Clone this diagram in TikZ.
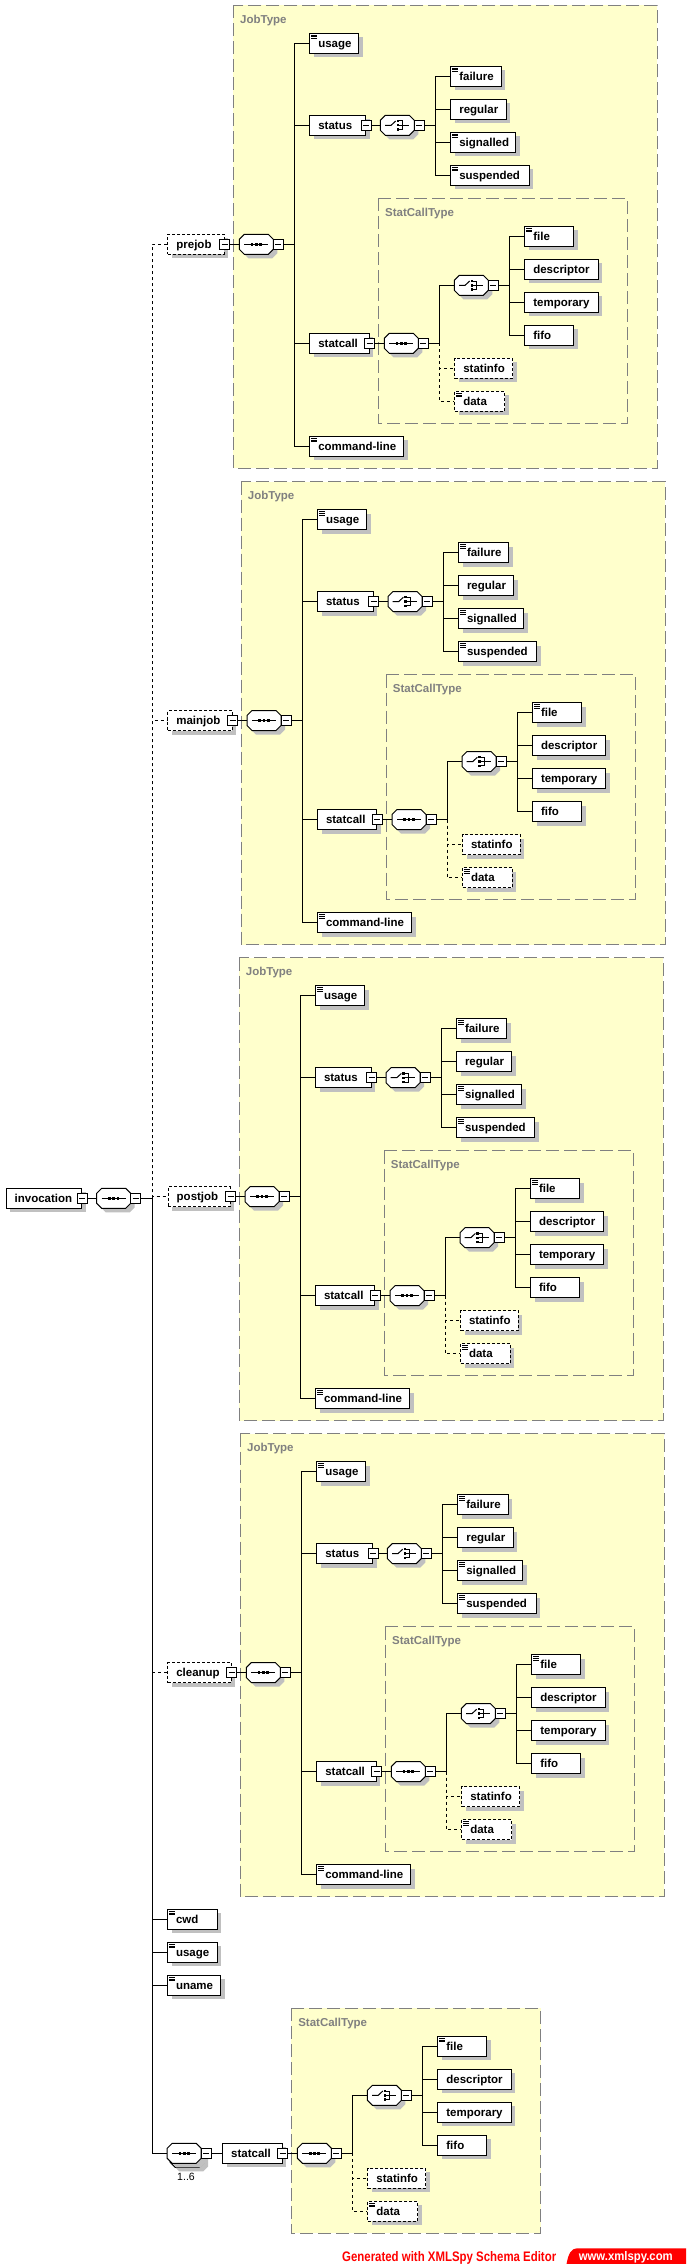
\documentclass[tikz,border=0pt]{standalone}
\usepackage{fontspec}
\setmainfont{Liberation Sans}
\usepackage{graphicx}
\usetikzlibrary{shadows}
\definecolor{typefill}{RGB}{255,255,204}
\definecolor{typeline}{RGB}{128,128,128}
\definecolor{shadowgray}{RGB}{192,192,192}
\definecolor{xred}{RGB}{255,0,0}

\tikzset{
 lbl/.style={font=\bfseries\fontsize{11.5pt}{13pt}\selectfont},
 shd/.style={drop shadow={shadow xshift=4pt, shadow yshift=-4pt, fill=shadowgray, opacity=1}},
 elembox/.style={lbl, shd, draw=black, fill=white, line width=1pt, minimum height=20pt, inner xsep=8.5pt, inner ysep=0pt, anchor=west, text height=8.2pt, text depth=0pt},
 optbox/.style={dash pattern=on 3pt off 2pt},
 simpicon/.style={path picture={\draw[solid, draw=black, line width=0.8pt] ([shift={(1.5pt,-1.8pt)}]path picture bounding box.north west) -- ++(6pt,0pt) ([shift={(1.5pt,-3.6pt)}]path picture bounding box.north west) -- ++(6pt,0pt) ([shift={(1.5pt,-5.4pt)}]path picture bounding box.north west) -- ++(6pt,0pt);}},
 octnode/.style={rectangle, draw=none, minimum width=34pt, minimum height=20pt, inner sep=0pt, outer sep=0pt, anchor=west},
 minusbox/.style={draw=black, fill=white, line width=1pt, solid, minimum size=10pt, inner sep=0pt, outer sep=0pt, path picture={\draw[solid,draw=black,line width=1pt] ([xshift=2pt]path picture bounding box.west) -- ([xshift=-2pt]path picture bounding box.east);}},
 conn/.style={draw=black, line width=1pt},
 optconn/.style={conn, dash pattern=on 3pt off 3pt},
 typebox/.style={fill=typefill, draw=typeline, line width=1pt, dash pattern=on 13pt off 5pt},
 typelabel/.style={lbl, text=typeline, anchor=base west, inner sep=0pt},
}

% octagon outline and shadow drawn around an invisible rectangular node
\newcommand\octshape[1]{%
 \fill[shadowgray, transform canvas={shift={(4pt,-4pt)}}] ([xshift=5pt]#1.north west) -- ([xshift=-5pt]#1.north east) -- ([yshift=-5pt]#1.north east) -- ([yshift=5pt]#1.south east) -- ([xshift=-5pt]#1.south east) -- ([xshift=5pt]#1.south west) -- ([yshift=5pt]#1.south west) -- ([yshift=-5pt]#1.north west) -- cycle;
 \filldraw[fill=white, draw=black, line width=1pt] ([xshift=5pt]#1.north west) -- ([xshift=-5pt]#1.north east) -- ([yshift=-5pt]#1.north east) -- ([yshift=5pt]#1.south east) -- ([xshift=-5pt]#1.south east) -- ([xshift=5pt]#1.south west) -- ([yshift=5pt]#1.south west) -- ([yshift=-5pt]#1.north west) -- cycle;
}
\newcommand\seqsymb[1]{%
 \draw[line width=1pt] ([xshift=-12pt]#1.center) -- ([xshift=12pt]#1.center);
 \fill[black] ([shift={(-5.7pt,-1.4pt)}]#1.center) rectangle ++(2.8pt,2.8pt);
 \fill[black] ([shift={(-1.4pt,-1.4pt)}]#1.center) rectangle ++(2.8pt,2.8pt);
 \fill[black] ([shift={(2.9pt,-1.4pt)}]#1.center) rectangle ++(2.8pt,2.8pt);
}
\newcommand\choicesymb[1]{%
 \draw[line width=1pt] ([xshift=-12.3pt]#1.center) -- ([xshift=-6.2pt]#1.center) -- ([shift={(-1.6pt,4.3pt)}]#1.center);
 \fill[black] ([shift={(-0.6pt,3.1pt)}]#1.center) rectangle ++(2.4pt,2.4pt);
 \fill[black] ([shift={(-0.6pt,-1.2pt)}]#1.center) rectangle ++(2.4pt,2.4pt);
 \fill[black] ([shift={(-0.6pt,-5.5pt)}]#1.center) rectangle ++(2.4pt,2.4pt);
 \draw[line width=1pt] ([shift={(1.8pt,4.3pt)}]#1.center) -- ([shift={(5.3pt,4.3pt)}]#1.center) -- ([shift={(5.3pt,-4.3pt)}]#1.center) -- ([shift={(1.8pt,-4.3pt)}]#1.center);
 \draw[line width=1pt] ([xshift=1.8pt]#1.center) -- ([xshift=12pt]#1.center);
}
% #1 name, #2 x (left), #3 y (centre)
\newcommand\seqoct[3]{\node[octnode] (#1) at ({#2},{#3}) {};\octshape{#1}\seqsymb{#1}\node[minusbox,anchor=west] (#1-m) at (#1.east) {};}
\newcommand\choiceoct[3]{\node[octnode] (#1) at ({#2},{#3}) {};\octshape{#1}\choicesymb{#1}\node[minusbox,anchor=west] (#1-m) at (#1.east) {};}

\newcommand\elem[6][]{\node[elembox,#1] (#2) at ({#3},{#4}) {\makebox[\dimexpr#5pt-17pt\relax][l]{#6}};}
\newcommand\elemm[6][]{\elem[#1]{#2}{#3}{#4}{#5}{#6}\node[minusbox] (#2-m) at (#2.east) {};}

\newcommand\stattype[4]{%
 \pgfmathsetmacro\SX{#2}\pgfmathsetmacro\SY{#3}%
 \draw[typebox] ({\SX-6},{\SY-145}) rectangle ({\SX+243.3},{\SY+80});
 \node[typelabel] (#1-lbl) at ({\SX+0.7},{\SY-127.3}) {StatCallType};
 \seqoct{#1-seq}{\SX}{\SY}
 \coordinate (#1-vx) at ({\SX+55},\SY);
 \choiceoct{#1-ch}{\SX+70}{\SY-58}
 \coordinate (#1-chx) at ({\SX+125},{\SY-58});
 \elem[simpicon]{#1-file}{\SX+140}{\SY-107}{49}{file}
 \elem{#1-descriptor}{\SX+140}{\SY-74}{73.3}{descriptor}
 \elem{#1-temporary}{\SX+140}{\SY-41}{73.3}{temporary}
 \elem{#1-fifo}{\SX+140}{\SY-8}{49}{fifo}
 \elem[optbox]{#1-statinfo}{\SX+70}{\SY+25}{57.7}{statinfo}
 \elem[optbox,simpicon]{#1-data}{\SX+70}{\SY+58}{49.7}{data}
 \draw[conn] (#4.east) -- (#1-seq.west);
 \draw[conn] (#1-seq-m.east) -- (#1-vx) |- (#1-ch.west);
 \draw[optconn] (#1-vx) |- (#1-statinfo.west);
 \draw[optconn] (#1-vx) |- (#1-data.west);
 \draw[conn] (#1-ch-m.east) -- (#1-chx) |- (#1-file.west);
 \draw[conn] (#1-chx) |- (#1-descriptor.west);
 \draw[conn] (#1-chx) |- (#1-temporary.west);
 \draw[conn] (#1-chx) |- (#1-fifo.west);
}

\newcommand\jobtype[4]{%
 \pgfmathsetmacro\JX{#2}\pgfmathsetmacro\JY{#3}%
 \draw[typebox] ({\JX-6},{\JY-239}) rectangle ({\JX+418},{\JY+224});
 \node[typelabel] (#1-lbl) at ({\JX+0.7},{\JY-221}) {JobType};
 \seqoct{#1-seq}{\JX}{\JY}
 \coordinate (#1-vx) at ({\JX+55},\JY);
 \elem[simpicon]{#1-usage}{\JX+70}{\JY-201}{49}{usage}
 \elemm{#1-status}{\JX+70}{\JY-119}{55.7}{status}
 \choiceoct{#1-ch}{\JX+141}{\JY-119}
 \coordinate (#1-chx) at ({\JX+196},{\JY-119});
 \elem[simpicon]{#1-failure}{\JX+211}{\JY-168}{50.4}{failure}
 \elem{#1-regular}{\JX+211}{\JY-135}{55.4}{regular}
 \elem[simpicon]{#1-signalled}{\JX+211}{\JY-102}{65}{signalled}
 \elem[simpicon]{#1-suspended}{\JX+211}{\JY-69}{78.2}{suspended}
 \elemm{#1-statcall}{\JX+70}{\JY+99}{59.2}{statcall}
 \elem[simpicon]{#1-cmd}{\JX+70}{\JY+202}{94}{command-line}
 \draw[conn] (#4.east) -- (#1-seq.west);
 \draw[conn] (#1-seq-m.east) -- (#1-vx) |- (#1-usage.west);
 \draw[conn] (#1-vx) |- (#1-status.west);
 \draw[conn] (#1-vx) |- (#1-statcall.west);
 \draw[conn] (#1-vx) |- (#1-cmd.west);
 \draw[conn] (#1-status-m.east) -- (#1-ch.west);
 \draw[conn] (#1-ch-m.east) -- (#1-chx) |- (#1-failure.west);
 \draw[conn] (#1-chx) |- (#1-regular.west);
 \draw[conn] (#1-chx) |- (#1-signalled.west);
 \draw[conn] (#1-chx) |- (#1-suspended.west);
 \stattype{#1-st}{\JX+145}{\JY+99}{#1-statcall-m}
}

\begin{document}
\begin{tikzpicture}[x=1pt,y=-1pt]
\useasboundingbox (0,0) rectangle (686,2264);
\fill[white] (0,0) rectangle (686,2264);

% root
\elemm{invocation}{5.7}{1198.3}{75.6}{invocation}
\seqoct{topseq}{96.7}{1198.3}
\coordinate (vx) at (152.3,1198.3);
\draw[conn] (invocation-m.east) -- (topseq.west);
\draw[conn] (topseq-m.east) -- (vx);

% optional job elements
\elemm[optbox]{prejob}{167.4}{244.3}{56.1}{prejob}
\jobtype{pre}{239.3}{244.3}{prejob-m}
\elemm[optbox]{mainjob}{167.3}{720.5}{64.4}{mainjob}
\jobtype{main}{247}{720.5}{mainjob-m}
\elemm[optbox]{postjob}{167.7}{1196.7}{61.8}{postjob}
\jobtype{post}{245}{1196.7}{postjob-m}
\elemm[optbox]{cleanup}{167.3}{1672.5}{63.5}{cleanup}
\jobtype{clean}{246.3}{1672.5}{cleanup-m}

\draw[optconn] (vx) |- (prejob.west);
\draw[optconn] (vx) |- (mainjob.west);
\draw[optconn] (vx) |- (postjob.west);
\draw[optconn] (vx) |- (cleanup.west);

% required simple elements
\elem[simpicon]{cwd}{167}{1919.3}{49.7}{cwd}
\elem[simpicon]{usage}{167}{1952.3}{49.7}{usage}
\elem[simpicon]{uname}{167}{1985.3}{53.3}{uname}
\draw[conn] (vx) |- (cwd.west);
\draw[conn] (vx) |- (usage.west);
\draw[conn] (vx) |- (uname.west);

% repeated sequence with statcall
\node[octnode] (botseqback) at (170.2,2157.3) {};
\octshape{botseqback}
\seqoct{botseq}{167.2}{2153.3}
\node[font=\fontsize{10.5pt}{12pt}\selectfont, inner sep=0pt] (mult) at (186,2176.5) {1..6};
\draw[conn] (vx) |- (botseq.west);
\elemm{statcall}{222.2}{2153.3}{59.6}{statcall}
\draw[conn] (botseq-m.east) -- (statcall.west);
\stattype{bst}{297.4}{2153.3}{statcall-m}

% footer
\fill[xred] (566.5,2264) .. controls (568.5,2254) and (570.5,2248.3) .. (578,2248.3) -- (686,2248.3) -- (686,2264) -- cycle;
\node[anchor=base west, inner sep=0pt, text=xred] (gen) at (342,2261.5) {\resizebox{214pt}{10pt}{\bfseries Generated with XMLSpy Schema Editor}};
\node[anchor=base west, inner sep=0pt, text=white] (www) at (578.6,2260.5) {\resizebox{94pt}{9pt}{\bfseries www.xmlspy.com}};
\end{tikzpicture}
\end{document}
